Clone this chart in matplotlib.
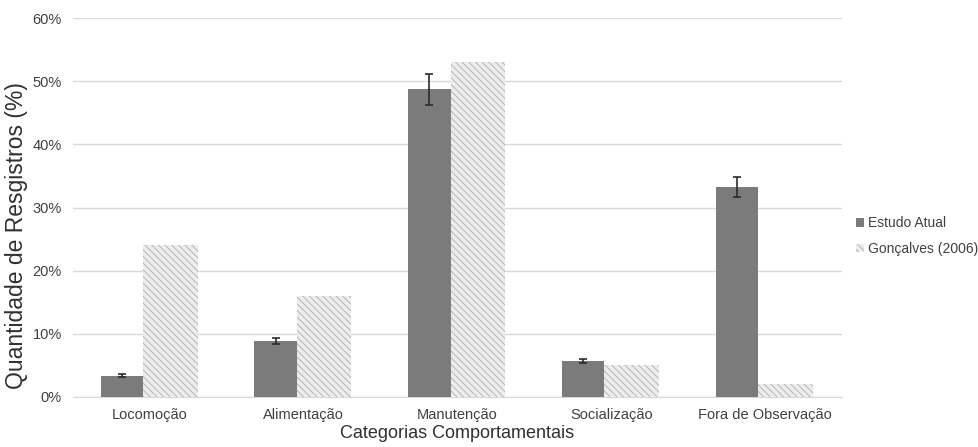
import matplotlib
matplotlib.use("Agg")
import matplotlib.pyplot as plt
import numpy as np

categories = ["Locomoção", "Alimentação", "Manutenção", "Socialização", "Fora de Observação"]
estudo_atual = [3.4, 8.9, 48.7, 5.7, 33.3]
estudo_atual_err = [0.2, 0.5, 2.5, 0.3, 1.6]
goncalves_2006 = [24.0, 16.0, 53.0, 5.0, 2.0]
y_ticks = [0, 10, 20, 30, 40, 50, 60]

plt.rcParams["font.family"] = ["Liberation Sans", "DejaVu Sans"]
plt.rcParams["hatch.linewidth"] = 0.6

fig = plt.figure(figsize=(9.79, 4.47), dpi=100)
ax = fig.add_axes([73 / 979, 50 / 447, 769 / 979, 379 / 447])

x = np.arange(len(categories))
w_dark = 0.275
w_hatch = 0.355
split = -0.045  # where the two bars of a group meet, relative to the tick

ax.bar(x + split - w_dark, estudo_atual, width=w_dark, align="edge", color="#7b7b7b",
       linewidth=0, label="Estudo Atual", zorder=3)
ax.errorbar(x + split - w_dark / 2, estudo_atual, yerr=estudo_atual_err, fmt="none",
            ecolor="#2b2b2b", elinewidth=1.2, capsize=3, capthick=1.2, zorder=4)
ax.bar(x + split, goncalves_2006, width=w_hatch, align="edge", facecolor="#ededed",
       edgecolor="#adadad", hatch="\\" * 5, linewidth=0,
       label="Gonçalves (2006)", zorder=3)

ax.set_xlim(-0.5, len(categories) - 0.5)
ax.set_ylim(0, 60)
ax.set_yticks(y_ticks)
ax.set_yticklabels([f"{v}%" for v in y_ticks])
ax.set_xticks(x)
ax.set_xticklabels(categories)

ax.grid(axis="y", color="#d9d9d9", linewidth=1, zorder=0)
for s in ["top", "right", "left"]:
    ax.spines[s].set_visible(False)
ax.spines["bottom"].set_color("#d9d9d9")
ax.tick_params(axis="both", length=0, colors="#404040", labelsize=10.5)
ax.tick_params(axis="x", pad=8)
ax.tick_params(axis="y", pad=8)

ax.set_ylabel("Quantidade de Resgistros (%)", fontsize=16.5, color="#303030")
ax.yaxis.set_label_coords(-45 / 769, 0.425)
ax.set_xlabel("Categorias Comportamentais", fontsize=13, color="#303030", labelpad=2)

leg = fig.legend(loc="upper left", bbox_to_anchor=(856 / 979, 1 - 216 / 447),
                 frameon=False, fontsize=10, handlelength=0.6, handleheight=0.6,
                 handletextpad=0.25, labelspacing=0.85, borderpad=0, borderaxespad=0)
for t in leg.get_texts():
    t.set_color("#404040")

fig.savefig("out.png", dpi=100, facecolor="white")
